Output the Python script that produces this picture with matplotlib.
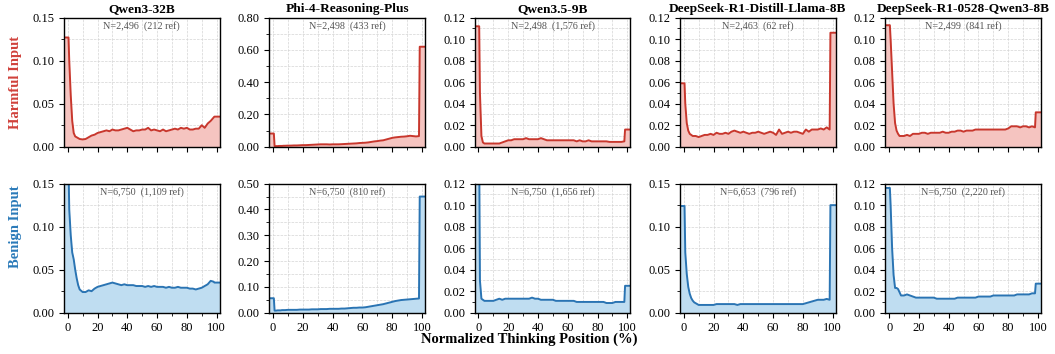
import matplotlib
matplotlib.use("Agg")
import matplotlib.pyplot as plt
import numpy as np
from matplotlib.ticker import MultipleLocator, FormatStrFormatter

# model names (columns)
models = ["Qwen3-32B", "Phi-4-Reasoning-Plus", "Qwen3.5-9B",
          "DeepSeek-R1-Distill-Llama-8B", "DeepSeek-R1-0528-Qwen3-8B"]

# x positions: first bin, head (1..8), body (10..98 by 2), last bin
edge_left_x = [-2.5, 0.5]
head_x = [1, 2, 3, 4, 5, 6, 7, 8]
body_x = list(range(10, 100, 2))
edge_right_x = [98.5, 102]

# ---------------- harmful input (top row) ----------------
harm_start = [0.127, 0.082, 0.112, 0.059, 0.113]
harm_end = [0.035, 0.62, 0.016, 0.106, 0.032]
harm_head = [
    [0.100, 0.060, 0.030, 0.016, 0.012, 0.011, 0.010, 0.009],
    [0.004, 0.004, 0.004, 0.005, 0.005, 0.005, 0.006, 0.006],
    [0.050, 0.010, 0.004, 0.003, 0.003, 0.003, 0.003, 0.003],
    [0.040, 0.022, 0.015, 0.012, 0.011, 0.010, 0.010, 0.010],
    [0.100, 0.070, 0.040, 0.022, 0.015, 0.012, 0.010, 0.010],
]
harm_body = [
    [0.0085, 0.009, 0.011, 0.013, 0.014, 0.016, 0.017, 0.018, 0.019,
     0.018, 0.020, 0.019, 0.019, 0.020, 0.021, 0.022, 0.020, 0.018,
     0.019, 0.019, 0.020, 0.020, 0.022, 0.019, 0.020, 0.019, 0.018,
     0.020, 0.018, 0.019, 0.020, 0.021, 0.020, 0.022, 0.021, 0.022,
     0.020, 0.020, 0.021, 0.021, 0.025, 0.022, 0.027, 0.030, 0.034],
    [0.007, 0.007, 0.008, 0.008, 0.009, 0.010, 0.010, 0.011, 0.012,
     0.013, 0.014, 0.015, 0.015, 0.015, 0.014, 0.015, 0.015, 0.015,
     0.016, 0.017, 0.018, 0.019, 0.020, 0.021, 0.023, 0.024, 0.025,
     0.027, 0.030, 0.033, 0.035, 0.038, 0.040, 0.045, 0.050, 0.055,
     0.058, 0.060, 0.062, 0.063, 0.065, 0.068, 0.066, 0.064, 0.066],
    [0.003, 0.003, 0.003, 0.004, 0.005, 0.006, 0.006, 0.007, 0.007,
     0.007, 0.007, 0.008, 0.007, 0.007, 0.007, 0.007, 0.008, 0.007,
     0.006, 0.006, 0.006, 0.006, 0.006, 0.006, 0.006, 0.006, 0.006,
     0.006, 0.005, 0.006, 0.005, 0.005, 0.006, 0.005, 0.005, 0.005,
     0.005, 0.005, 0.005, 0.0045, 0.0045, 0.0045, 0.0045, 0.0045, 0.005],
    [0.009, 0.010, 0.011, 0.011, 0.012, 0.011, 0.013, 0.012, 0.012,
     0.013, 0.012, 0.014, 0.015, 0.014, 0.013, 0.014, 0.013, 0.012,
     0.013, 0.013, 0.014, 0.013, 0.012, 0.013, 0.014, 0.013, 0.011,
     0.016, 0.012, 0.013, 0.014, 0.013, 0.014, 0.014, 0.013, 0.012,
     0.016, 0.014, 0.016, 0.016, 0.016, 0.017, 0.016, 0.018, 0.016],
    [0.010, 0.011, 0.010, 0.012, 0.012, 0.012, 0.013, 0.013, 0.012,
     0.013, 0.013, 0.013, 0.013, 0.014, 0.013, 0.013, 0.014, 0.014,
     0.015, 0.015, 0.014, 0.015, 0.015, 0.015, 0.016, 0.016, 0.016,
     0.016, 0.016, 0.016, 0.016, 0.016, 0.016, 0.016, 0.016, 0.017,
     0.019, 0.019, 0.019, 0.018, 0.019, 0.019, 0.018, 0.019, 0.018],
]
harm_notes = ["N=2,496  (212 ref)", "N=2,498  (433 ref)", "N=2,498  (1,576 ref)",
              "N=2,463  (62 ref)", "N=2,499  (841 ref)"]
harm_ymax = [0.15, 0.80, 0.12, 0.12, 0.12]
harm_major = [0.05, 0.20, 0.02, 0.02, 0.02]

# ---------------- benign input (bottom row) ----------------
ben_start = [0.17, 0.056, 0.15, 0.124, 0.116]
ben_end = [0.035, 0.45, 0.025, 0.125, 0.027]
ben_head = [
    [0.120, 0.090, 0.070, 0.062, 0.050, 0.040, 0.032, 0.027],
    [0.008, 0.008, 0.009, 0.009, 0.009, 0.010, 0.010, 0.010],
    [0.030, 0.013, 0.012, 0.011, 0.011, 0.011, 0.011, 0.011],
    [0.070, 0.045, 0.030, 0.022, 0.017, 0.014, 0.012, 0.011],
    [0.100, 0.060, 0.035, 0.023, 0.023, 0.022, 0.019, 0.016],
]
ben_body = [
    [0.024, 0.024, 0.026, 0.025, 0.028, 0.030, 0.031, 0.032, 0.033,
     0.034, 0.035, 0.034, 0.033, 0.032, 0.033, 0.032, 0.032, 0.032,
     0.031, 0.031, 0.031, 0.030, 0.031, 0.030, 0.031, 0.030, 0.030,
     0.030, 0.029, 0.030, 0.029, 0.029, 0.030, 0.029, 0.029, 0.029,
     0.028, 0.028, 0.027, 0.028, 0.029, 0.031, 0.033, 0.037, 0.036],
    [0.011, 0.011, 0.011, 0.011, 0.012, 0.012, 0.012, 0.012, 0.013,
     0.013, 0.013, 0.014, 0.014, 0.014, 0.015, 0.015, 0.015, 0.015,
     0.016, 0.016, 0.017, 0.018, 0.019, 0.019, 0.020, 0.020, 0.021,
     0.023, 0.025, 0.027, 0.029, 0.031, 0.033, 0.036, 0.039, 0.042,
     0.045, 0.047, 0.049, 0.050, 0.051, 0.052, 0.053, 0.054, 0.055],
    [0.011, 0.012, 0.013, 0.012, 0.013, 0.013, 0.013, 0.013, 0.013,
     0.013, 0.013, 0.013, 0.013, 0.014, 0.013, 0.013, 0.012, 0.012,
     0.012, 0.012, 0.012, 0.011, 0.011, 0.011, 0.011, 0.011, 0.011,
     0.011, 0.010, 0.010, 0.010, 0.010, 0.010, 0.010, 0.010, 0.010,
     0.010, 0.010, 0.009, 0.009, 0.009, 0.010, 0.010, 0.010, 0.010],
    [0.009, 0.009, 0.009, 0.009, 0.009, 0.009, 0.010, 0.010, 0.010,
     0.010, 0.010, 0.010, 0.010, 0.009, 0.010, 0.010, 0.010, 0.010,
     0.010, 0.010, 0.010, 0.010, 0.010, 0.010, 0.010, 0.010, 0.010,
     0.010, 0.010, 0.010, 0.010, 0.010, 0.010, 0.010, 0.010, 0.010,
     0.011, 0.012, 0.013, 0.014, 0.015, 0.015, 0.015, 0.016, 0.015],
    [0.016, 0.017, 0.016, 0.015, 0.014, 0.014, 0.014, 0.014, 0.014,
     0.014, 0.014, 0.013, 0.013, 0.013, 0.013, 0.013, 0.013, 0.013,
     0.014, 0.014, 0.014, 0.014, 0.014, 0.014, 0.014, 0.015, 0.015,
     0.015, 0.015, 0.015, 0.016, 0.016, 0.016, 0.016, 0.016, 0.016,
     0.016, 0.016, 0.017, 0.017, 0.017, 0.017, 0.017, 0.018, 0.018],
]
ben_notes = ["N=6,750  (1,109 ref)", "N=6,750  (810 ref)", "N=6,750  (1,656 ref)",
             "N=6,653  (796 ref)", "N=6,750  (2,220 ref)"]
ben_ymax = [0.15, 0.50, 0.12, 0.15, 0.12]
ben_major = [0.05, 0.10, 0.02, 0.05, 0.02]

RED_LINE, RED_FILL = "#c8372d", "#f5c4c0"
BLUE_LINE, BLUE_FILL = "#2a74b3", "#bfddf1"


def _series(start, head, body, end):
    x = np.array(edge_left_x + head_x + body_x + edge_right_x, dtype=float)
    y = np.array([start, start] + head + body + [end, end])
    return x, y


def _style_axes(ax, ymax, major, show_xlabels):
    ax.set_xlim(-2.5, 102)
    ax.set_ylim(0, ymax)
    ax.xaxis.set_major_locator(MultipleLocator(20))
    ax.xaxis.set_minor_locator(MultipleLocator(10))
    ax.yaxis.set_major_locator(MultipleLocator(major))
    ax.yaxis.set_minor_locator(MultipleLocator(major / 2))
    ax.yaxis.set_major_formatter(FormatStrFormatter("%.2f"))
    ax.grid(which="both", color="#d4d4d4", linestyle="--", linewidth=0.5)
    ax.set_axisbelow(True)
    ax.tick_params(which="major", direction="out", length=3.5, width=0.8, labelsize=9)
    ax.tick_params(which="minor", direction="out", length=2, width=0.6)
    if not show_xlabels:
        ax.tick_params(axis="x", labelbottom=False)
    for sp in ax.spines.values():
        sp.set_linewidth(1.0)


def main():
    plt.rcParams["font.family"] = ["Liberation Serif", "DejaVu Serif"]

    fig, axes = plt.subplots(2, 5, figsize=(10.55, 3.54), dpi=100)

    for i in range(5):
        ax = axes[0, i]
        x, y = _series(harm_start[i], harm_head[i], harm_body[i], harm_end[i])
        ax.fill_between(x, 0, y, color=RED_FILL, linewidth=0)
        ax.plot(x, y, color=RED_LINE, linewidth=1.4)
        _style_axes(ax, harm_ymax[i], harm_major[i], False)
        ax.set_title(models[i], fontsize=9.6, fontweight="bold", pad=4)
        ax.text(0.5, 0.935, harm_notes[i], transform=ax.transAxes,
                ha="center", va="center", fontsize=7.3, color="#555555")

        ax = axes[1, i]
        x, y = _series(ben_start[i], ben_head[i], ben_body[i], ben_end[i])
        ax.fill_between(x, 0, y, color=BLUE_FILL, linewidth=0)
        ax.plot(x, y, color=BLUE_LINE, linewidth=1.4)
        _style_axes(ax, ben_ymax[i], ben_major[i], True)
        ax.text(0.5, 0.935, ben_notes[i], transform=ax.transAxes,
                ha="center", va="center", fontsize=7.3, color="#555555")

    plt.subplots_adjust(left=0.0607, right=0.9867, top=0.950, bottom=0.1167,
                        wspace=0.32, hspace=0.286)

    fig.text(0.015, 0.768, "Harmful Input", rotation=90, ha="center", va="center",
             fontsize=10.5, fontweight="bold", color="#d0413b")
    fig.text(0.015, 0.36, "Benign Input", rotation=90, ha="center", va="center",
             fontsize=10.5, fontweight="bold", color="#2a7ab9")
    fig.text(0.502, 0.042, "Normalized Thinking Position (%)", ha="center", va="center",
             fontsize=10.5, fontweight="bold")

    fig.savefig("out.png", dpi=100)


if __name__ == "__main__":
    main()
